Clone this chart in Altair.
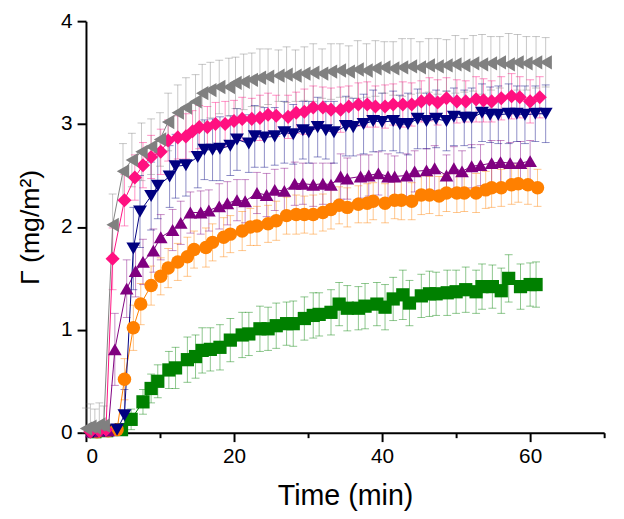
import altair as alt
import pandas as pd

# ---- data (time in min, Gamma in mg/m^2, error) ----
gray_t = [0.0, 0.6, 1.2, 1.8, 2.4, 3.6, 5.0, 6.2, 7.5, 8.8, 10.0, 11.1, 12.4, 13.5, 14.8,
          15.7, 16.8, 18.0, 19.3, 20.2, 21.3, 22.4, 23.5, 24.6, 26.0, 27.1, 28.3, 29.5, 30.7, 31.9,
          33.1, 34.3, 35.5, 36.7, 37.9, 39.1, 40.3, 41.5, 42.7, 43.9, 45.1, 46.3, 47.5, 48.7, 49.9,
          51.1, 52.3, 53.5, 54.7, 55.9, 57.1, 58.3, 59.5, 60.8, 62.1]
gray_v = [0.04, 0.06, 0.05, 0.08, 0.07, 2.02, 2.54, 2.65, 2.73, 2.78, 2.85, 3.02, 3.11, 3.16, 3.22,
          3.30, 3.33, 3.36, 3.36, 3.40, 3.41, 3.43, 3.45, 3.46, 3.47, 3.48, 3.47, 3.49, 3.50, 3.49,
          3.51, 3.52, 3.51, 3.53, 3.52, 3.54, 3.55, 3.54, 3.55, 3.56, 3.55, 3.57, 3.56, 3.57, 3.58,
          3.57, 3.59, 3.58, 3.59, 3.60, 3.58, 3.60, 3.59, 3.60, 3.60]
gray_e = [0.20, 0.22, 0.18, 0.21, 0.19, 0.30, 0.27, 0.26, 0.28, 0.27, 0.26, 0.28, 0.27, 0.29, 0.26,
          0.28, 0.27, 0.26, 0.28, 0.25, 0.27, 0.26, 0.28, 0.27, 0.25, 0.27, 0.25, 0.26, 0.28, 0.24,
          0.27, 0.26, 0.25, 0.28, 0.26, 0.27, 0.25, 0.26, 0.28, 0.27, 0.25, 0.26, 0.27, 0.25, 0.28,
          0.26, 0.27, 0.29, 0.26, 0.25, 0.30, 0.27, 0.26, 0.25, 0.24]

pink_t = [0.6, 1.8, 2.7, 3.6, 5.2, 6.6, 7.7, 8.8, 10.1, 11.1, 12.4, 13.5, 14.4, 15.3, 16.4,
          17.5, 18.8, 20.0, 21.1, 22.4, 23.5, 24.6, 25.7, 27.3, 28.4, 29.5, 30.7, 32.0, 33.1, 34.4,
          35.5, 36.8, 38.0, 39.1, 40.4, 41.5, 42.8, 44.0, 45.3, 46.4, 47.5, 48.7, 50.1, 51.3, 52.7,
          53.7, 54.8, 56.1, 57.5, 58.6, 60.0, 61.3]
pink_v = [0.01, 0.02, 0.03, 1.69, 2.26, 2.48, 2.60, 2.68, 2.73, 2.84, 2.87, 2.88, 2.93, 2.97, 2.97,
          3.00, 3.00, 3.03, 3.05, 3.05, 3.06, 3.09, 3.08, 3.07, 3.11, 3.12, 3.16, 3.16, 3.14, 3.14,
          3.17, 3.19, 3.19, 3.17, 3.17, 3.19, 3.19, 3.19, 3.22, 3.24, 3.21, 3.25, 3.22, 3.22, 3.24,
          3.23, 3.22, 3.25, 3.27, 3.26, 3.22, 3.26]
pink_e = [0.03, 0.03, 0.03, 0.30, 0.25, 0.22, 0.22, 0.21, 0.22, 0.20, 0.21, 0.22, 0.20, 0.21, 0.20,
          0.21, 0.22, 0.20, 0.21, 0.20, 0.22, 0.21, 0.20, 0.21, 0.20, 0.22, 0.21, 0.20, 0.21, 0.22,
          0.20, 0.21, 0.22, 0.20, 0.21, 0.20, 0.22, 0.21, 0.20, 0.21, 0.22, 0.20, 0.21, 0.20, 0.22,
          0.21, 0.20, 0.21, 0.22, 0.20, 0.21, 0.20]

navy_t = [1.0, 2.5, 4.2, 5.2, 6.4, 7.3, 8.8, 9.7, 11.3, 12.1, 13.5, 15.1, 16.0, 17.1, 18.1,
          19.5, 20.4, 22.0, 22.8, 24.1, 25.5, 26.8, 28.0, 29.3, 30.1, 31.3, 32.4, 33.5, 35.1, 36.1,
          37.5, 38.8, 40.0, 41.5, 42.4, 43.5, 44.8, 46.0, 47.3, 48.7, 49.7, 51.1, 52.1, 53.5, 54.6,
          55.7, 57.1, 58.2, 59.3, 60.7, 62.1]
navy_v = [0.01, 0.02, 0.03, 0.17, 1.79, 2.15, 2.30, 2.40, 2.49, 2.59, 2.60, 2.68, 2.75, 2.75, 2.76,
          2.79, 2.85, 2.81, 2.88, 2.87, 2.88, 2.92, 2.90, 2.94, 2.92, 2.97, 2.94, 2.92, 2.98, 2.97,
          3.00, 3.03, 3.02, 3.03, 3.00, 3.00, 3.05, 3.03, 3.05, 3.03, 3.07, 3.06, 3.06, 3.11, 3.09,
          3.09, 3.10, 3.10, 3.09, 3.10, 3.10]
navy_e = [0.02, 0.02, 0.03, 0.25, 0.40, 0.35, 0.33, 0.32, 0.30, 0.31, 0.30, 0.30, 0.29, 0.30, 0.31,
          0.29, 0.30, 0.28, 0.30, 0.29, 0.28, 0.30, 0.29, 0.28, 0.30, 0.29, 0.28, 0.30, 0.29, 0.28,
          0.29, 0.30, 0.28, 0.29, 0.28, 0.30, 0.29, 0.27, 0.28, 0.29, 0.28, 0.27, 0.29, 0.28, 0.27,
          0.28, 0.29, 0.27, 0.28, 0.27, 0.28]

purple_t = [0.8, 2.0, 3.0, 3.9, 5.5, 6.7, 7.7, 9.1, 10.1, 11.7, 12.8, 14.1, 15.5, 16.6, 18.0,
            19.1, 20.4, 21.5, 23.1, 24.4, 25.5, 26.8, 28.2, 29.3, 30.7, 32.0, 33.1, 34.4, 35.3, 37.1,
            38.2, 39.5, 40.8, 41.7, 43.3, 44.4, 46.0, 47.1, 48.7, 49.7, 50.8, 52.1, 53.3, 54.8, 56.0,
            57.3, 58.7, 60.0]
purple_v = [0.01, 0.02, 0.02, 0.81, 1.40, 1.57, 1.66, 1.77, 1.90, 1.97, 2.04, 2.14, 2.14, 2.16, 2.20,
            2.23, 2.26, 2.25, 2.33, 2.31, 2.36, 2.35, 2.42, 2.42, 2.41, 2.42, 2.41, 2.49, 2.47, 2.49,
            2.50, 2.52, 2.49, 2.49, 2.50, 2.54, 2.55, 2.57, 2.50, 2.57, 2.54, 2.59, 2.60, 2.62, 2.63,
            2.62, 2.62, 2.64]
purple_e = [0.02, 0.02, 0.02, 0.35, 0.28, 0.25, 0.22, 0.21, 0.22, 0.20, 0.21, 0.20, 0.21, 0.20, 0.22,
            0.21, 0.20, 0.21, 0.20, 0.21, 0.20, 0.22, 0.21, 0.20, 0.21, 0.20, 0.21, 0.22, 0.20, 0.21,
            0.20, 0.21, 0.22, 0.20, 0.21, 0.20, 0.21, 0.22, 0.20, 0.21, 0.20, 0.21, 0.20, 0.22, 0.21,
            0.20, 0.21, 0.20]

orange_t = [1.5, 3.0, 4.2, 5.2, 6.4, 7.4, 8.8, 10.1, 11.1, 12.4, 13.7, 14.6, 16.2, 17.1, 18.6,
            19.5, 21.1, 22.2, 23.1, 24.6, 25.7, 27.1, 28.4, 29.5, 30.7, 32.0, 33.1, 34.2, 35.3, 36.8,
            38.0, 38.8, 40.4, 41.7, 42.6, 44.0, 45.3, 46.4, 47.7, 48.7, 50.1, 51.1, 52.7, 54.0, 54.8,
            56.1, 57.5, 58.4, 59.7, 61.0]
orange_v = [0.01, 0.02, 0.03, 0.52, 1.02, 1.25, 1.43, 1.52, 1.60, 1.66, 1.71, 1.78, 1.80, 1.85, 1.90,
            1.93, 1.96, 2.00, 2.01, 2.03, 2.06, 2.11, 2.12, 2.12, 2.12, 2.14, 2.17, 2.21, 2.19, 2.22,
            2.23, 2.25, 2.23, 2.26, 2.26, 2.25, 2.31, 2.31, 2.30, 2.33, 2.33, 2.33, 2.33, 2.36, 2.38,
            2.38, 2.41, 2.42, 2.41, 2.38]
orange_e = [0.02, 0.02, 0.03, 0.20, 0.22, 0.20, 0.19, 0.18, 0.19, 0.18, 0.19, 0.18, 0.19, 0.18, 0.19,
            0.18, 0.19, 0.18, 0.19, 0.18, 0.19, 0.18, 0.19, 0.18, 0.19, 0.18, 0.19, 0.18, 0.19, 0.18,
            0.19, 0.18, 0.19, 0.18, 0.19, 0.18, 0.19, 0.18, 0.19, 0.18, 0.19, 0.18, 0.19, 0.18, 0.19,
            0.18, 0.19, 0.18, 0.19, 0.18]

green_t = [1.2, 2.8, 4.8, 6.1, 7.7, 8.8, 9.7, 11.2, 12.1, 13.7, 14.8, 15.7, 16.8, 18.1, 19.5,
           21.1, 22.0, 23.5, 24.6, 25.7, 27.1, 28.0, 29.5, 30.7, 31.5, 33.1, 34.2, 35.3, 36.8, 37.7,
           39.3, 40.4, 41.5, 42.8, 43.7, 45.3, 46.4, 47.3, 48.8, 50.0, 51.3, 52.7, 53.5, 54.9, 56.1,
           57.1, 58.7, 60.0, 60.8]
green_v = [0.01, 0.02, 0.03, 0.13, 0.30, 0.43, 0.50, 0.61, 0.63, 0.71, 0.74, 0.80, 0.81, 0.83, 0.90,
           0.95, 0.96, 1.01, 1.01, 1.04, 1.06, 1.06, 1.11, 1.14, 1.15, 1.17, 1.25, 1.21, 1.21, 1.23,
           1.25, 1.22, 1.30, 1.34, 1.26, 1.33, 1.35, 1.35, 1.36, 1.37, 1.39, 1.37, 1.42, 1.42, 1.38,
           1.50, 1.42, 1.44, 1.44]
green_e = [0.02, 0.02, 0.03, 0.10, 0.12, 0.14, 0.16, 0.18, 0.20, 0.22, 0.21, 0.22, 0.21, 0.22, 0.21,
           0.22, 0.21, 0.22, 0.21, 0.22, 0.21, 0.22, 0.21, 0.22, 0.21, 0.22, 0.21, 0.22, 0.21, 0.22,
           0.21, 0.22, 0.21, 0.24, 0.22, 0.21, 0.22, 0.21, 0.22, 0.21, 0.22, 0.21, 0.22, 0.21, 0.22,
           0.23, 0.22, 0.21, 0.22]

series_names = ["green", "orange", "purple", "navy", "pink", "gray"]
series_colors = ["#008000", "#FF8000", "#800080", "#000080", "#FF1080", "#808080"]
series_shapes = ["square", "circle", "triangle-up", "triangle-down", "diamond", "triangle-left"]
series_sizes = [180, 210, 330, 330, 260, 340]

series = [
    ("green", green_t, green_v, green_e),
    ("orange", orange_t, orange_v, orange_e),
    ("purple", purple_t, purple_v, purple_e),
    ("navy", navy_t, navy_v, navy_e),
    ("pink", pink_t, pink_v, pink_e),
    ("gray", gray_t, gray_v, gray_e),
]

rows = []
for name, ts, vs, es in series:
    for t, v, e in zip(ts, vs, es):
        rows.append({"series": name, "t": t, "v": v,
                     "lo": max(v - e, 0.0), "hi": v + e})
df = pd.DataFrame(rows)

FONT = "Liberation Sans"

x_enc = alt.X(
    "t:Q",
    scale=alt.Scale(domain=[0, 70], nice=False, zero=False),
    axis=alt.Axis(
        title="Time (min)",
        values=[0, 10, 20, 30, 40, 50, 60, 70],
        format="d",
        labelExpr="datum.value % 20 === 0 ? datum.label : ''",
        tickSize={"condition": {"test": "datum.value % 20 === 0", "value": 9}, "value": 5},
        labelPadding=4,
        titlePadding=16,
    ),
)
y_axis = alt.Axis(
    title="Γ (mg/m²)",
    values=[0, 0.5, 1, 1.5, 2, 2.5, 3, 3.5, 4],
    format="d",
    labelExpr="datum.value % 1 === 0 ? datum.label : ''",
    tickSize={"condition": {"test": "datum.value % 1 === 0", "value": 9}, "value": 5},
    labelPadding=5,
    titlePadding=16,
)
y_scale = alt.Scale(domain=[0, 4], nice=False, zero=True)

color_enc = alt.Color("series:N", scale=alt.Scale(domain=series_names, range=series_colors), legend=None)
shape_enc = alt.Shape("series:N", scale=alt.Scale(domain=series_names, range=series_shapes), legend=None)
size_enc = alt.Size("series:N", scale=alt.Scale(domain=series_names, range=series_sizes), legend=None)

base = alt.Chart(df)

rules = base.mark_rule(strokeWidth=1, opacity=0.45).encode(
    x=x_enc,
    y=alt.Y("lo:Q", scale=y_scale, axis=y_axis),
    y2="hi:Q",
    color=color_enc,
)
cap_hi = base.mark_tick(orient="horizontal", size=8, thickness=1, opacity=0.45).encode(
    x=x_enc, y=alt.Y("hi:Q", scale=y_scale, axis=y_axis), color=color_enc
)
cap_lo = base.mark_tick(orient="horizontal", size=8, thickness=1, opacity=0.45).encode(
    x=x_enc, y=alt.Y("lo:Q", scale=y_scale, axis=y_axis), color=color_enc
)
lines = base.mark_line(strokeWidth=1).encode(
    x=x_enc, y=alt.Y("v:Q", scale=y_scale, axis=y_axis), color=color_enc
)
points = base.mark_point(filled=True, opacity=1, strokeWidth=0).encode(
    x=x_enc, y=alt.Y("v:Q", scale=y_scale, axis=y_axis),
    color=color_enc, shape=shape_enc, size=size_enc
)

chart = (
    alt.layer(rules, cap_hi, cap_lo, lines, points)
    .properties(
        width=525,
        height=417,
        autosize=alt.AutoSizeParams(type="none"),
        padding={"left": 79, "top": 10, "right": 12, "bottom": 76},
    )
    .configure_view(stroke=None)
    .configure_axis(
        grid=False,
        domainColor="black",
        domainWidth=2,
        tickColor="black",
        tickWidth=2,
        labelColor="black",
        labelFont=FONT,
        labelFontSize=21,
        titleColor="black",
        titleFont=FONT,
        titleFontWeight="normal",
    )
    .configure_axisX(titleFontSize=29)
    .configure_axisY(titleFontSize=27)
)

chart.save("out.html", embed_options={"renderer": "svg", "actions": False})
